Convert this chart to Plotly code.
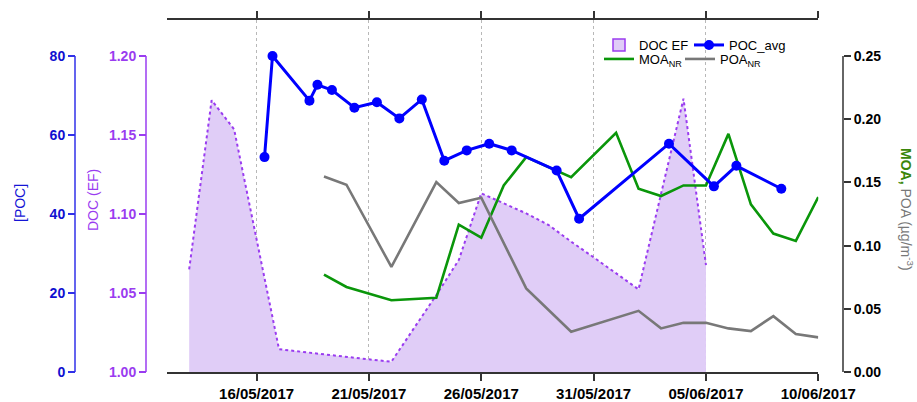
import plotly.graph_objects as go

# ---------------- data ----------------
poc_dates = ['2017-05-16 08:30', '2017-05-16 17:00', '2017-05-18 08:30', '2017-05-18 17:00',
             '2017-05-19 08:30', '2017-05-20 08:30', '2017-05-21 08:30', '2017-05-22 08:30',
             '2017-05-23 08:30', '2017-05-24 08:30', '2017-05-25 08:30', '2017-05-26 08:30',
             '2017-05-27 08:30', '2017-05-29 08:30', '2017-05-30 08:30', '2017-06-03 08:30',
             '2017-06-05 08:30', '2017-06-06 08:30', '2017-06-08 08:30']
poc_avg = [54.4, 80.0, 68.7, 72.7, 71.4, 66.9, 68.3, 64.2, 69.0, 53.5,
           56.1, 57.8, 56.1, 51.0, 38.8, 57.8, 47.0, 52.2, 46.4]

doc_dates = ['2017-05-13', '2017-05-14', '2017-05-15', '2017-05-17', '2017-05-21', '2017-05-22',
             '2017-05-24', '2017-05-25', '2017-05-26', '2017-05-27', '2017-05-28', '2017-05-29',
             '2017-05-30', '2017-05-31', '2017-06-01', '2017-06-02', '2017-06-04', '2017-06-05']
doc_ef = [1.065, 1.172, 1.1536, 1.0144, 1.0080, 1.0065, 1.0487, 1.0709, 1.1131, 1.1068,
          1.1004, 1.0930, 1.0825, 1.0726, 1.0625, 1.0523, 1.173, 1.0677]

moa_dates = ['2017-05-19', '2017-05-20', '2017-05-22', '2017-05-24', '2017-05-25', '2017-05-26',
             '2017-05-27', '2017-05-28', '2017-05-30', '2017-06-01', '2017-06-02', '2017-06-03',
             '2017-06-04', '2017-06-05', '2017-06-06', '2017-06-07', '2017-06-08', '2017-06-09',
             '2017-06-10']
moa_nr = [0.0771, 0.0673, 0.0568, 0.0587, 0.1166, 0.1063, 0.1476, 0.1700, 0.1542, 0.1892,
          0.1450, 0.1392, 0.1476, 0.1476, 0.1884, 0.1326, 0.1095, 0.1037, 0.1384]

poa_dates = ['2017-05-19', '2017-05-20', '2017-05-22', '2017-05-24', '2017-05-25', '2017-05-26',
             '2017-05-28', '2017-05-30', '2017-06-02', '2017-06-03', '2017-06-04', '2017-06-05',
             '2017-06-06', '2017-06-07', '2017-06-08', '2017-06-09', '2017-06-10']
poa_nr = [0.1547, 0.1482, 0.0831, 0.1502, 0.1337, 0.1379, 0.0661, 0.0318, 0.0484, 0.0345,
          0.0389, 0.0389, 0.0345, 0.0324, 0.0442, 0.0300, 0.0274]

x_ticks = ['2017-05-16', '2017-05-21', '2017-05-26', '2017-05-31', '2017-06-05', '2017-06-10']
x_ticktext = ['16/05/2017', '21/05/2017', '26/05/2017', '31/05/2017', '05/06/2017', '10/06/2017']
poc_ticks = [0, 20, 40, 60, 80]
doc_ticks = [1.00, 1.05, 1.10, 1.15, 1.20]
oa_ticks = [0.00, 0.05, 0.10, 0.15, 0.20, 0.25]

# ---------------- layout geometry ----------------
W, H = 917, 402
ML, MR, MT, MB = 0, 0, 20, 30
PW = W - ML - MR
PH = H - MT - MB
x_left, x_right = 166.7, 818.3
FONT = 'Arial, Liberation Sans, sans-serif'

BLUE = '#0000ff'
BLUE_AX = '#3030e8'
PURPLE = '#9a3cf0'
PURPLE_FILL = '#e0cdf7'
GREEN = '#0a960a'
GRAY = '#787878'

def px_x(px):
    return px / PW

def px_y(py):
    return (H - MB - py) / PH

frac = (372 - 20) / (372 - 56)  # extra room above top tick

fig = go.Figure()

# DOC (base axis y)
fig.add_trace(go.Scatter(x=doc_dates, y=doc_ef, mode='lines', fill='tozeroy',
                         fillcolor=PURPLE_FILL,
                         line=dict(color=PURPLE, width=2, dash='dot'),
                         showlegend=False, yaxis='y'))
fig.add_trace(go.Bar(x=[None], y=[None], name='DOC EF', yaxis='y',
                     marker=dict(color=PURPLE_FILL, line=dict(color=PURPLE, width=1.5)),
                     showlegend=True, legend='legend'))
# MOA / POA (y2)
fig.add_trace(go.Scatter(x=moa_dates, y=moa_nr, mode='lines', name='MOA<sub>NR</sub>',
                         line=dict(color=GREEN, width=2.6), yaxis='y2', legend='legend3'))
fig.add_trace(go.Scatter(x=poa_dates, y=poa_nr, mode='lines', name='POA<sub>NR</sub>',
                         line=dict(color=GRAY, width=2.6), yaxis='y2', legend='legend4'))
# POC (y3, top)
fig.add_trace(go.Scatter(x=poc_dates, y=poc_avg, mode='lines+markers', name='POC_avg',
                         line=dict(color=BLUE, width=3), marker=dict(color=BLUE, size=10),
                         yaxis='y3', legend='legend2'))

legend_common = dict(orientation='v', bgcolor='rgba(0,0,0,0)', borderwidth=0,
                     font=dict(family=FONT, size=13, color='#000'),
                     xanchor='left', yanchor='middle', itemwidth=30)

fig.update_layout(
    width=W, height=H, autosize=False,
    margin=dict(l=ML, r=MR, t=MT, b=MB, autoexpand=False),
    paper_bgcolor='white', plot_bgcolor='white',
    font=dict(family=FONT, color='#000'),
    xaxis=dict(domain=[px_x(x_left), px_x(x_right)],
               type='date', range=['2017-05-12', '2017-06-10'],
               tickvals=x_ticks, ticktext=x_ticktext,
               tickfont=dict(family=FONT, size=15, weight='bold', color='#000'),
               ticks='outside', ticklen=7, tickwidth=1.5, tickcolor='#333',
               showline=True, linecolor='#333', linewidth=1.5, mirror='ticks',
               showgrid=True, gridcolor='#b8b8b8', griddash='dot', gridwidth=1,
               zeroline=False, anchor='y', automargin=False),
    yaxis=dict(range=[1.0, 1.0 + 0.2 * frac], anchor='free', position=px_x(146), side='left',
               tickvals=doc_ticks, ticktext=['%.2f' % v for v in doc_ticks],
               tickfont=dict(family=FONT, size=14, weight='bold', color=PURPLE),
               ticks='outside', ticklen=7, tickwidth=1.5, tickcolor=PURPLE,
               showline=False, showgrid=False, zeroline=False, automargin=False),
    yaxis2=dict(range=[0, 0.25 * frac], anchor='free', position=px_x(843), side='right',
                overlaying='y',
                tickvals=oa_ticks, ticktext=['%.2f' % v for v in oa_ticks],
                tickfont=dict(family=FONT, size=14, weight='bold', color='#000'),
                ticks='outside', ticklen=7, tickwidth=1.5, tickcolor='#333',
                showline=False, showgrid=False, zeroline=False, automargin=False),
    yaxis3=dict(range=[0, 80 * frac], anchor='free', position=px_x(75), side='left',
                overlaying='y',
                tickvals=poc_ticks, ticktext=[str(v) for v in poc_ticks],
                tickfont=dict(family=FONT, size=14, weight='bold', color='#1010d0'),
                ticks='outside', ticklen=7, tickwidth=1.5, tickcolor=BLUE_AX,
                showline=False, showgrid=False, zeroline=False, automargin=False),
    legend=dict(legend_common, x=px_x(599), y=px_y(45)),
    legend2=dict(legend_common, x=px_x(689), y=px_y(45)),
    legend3=dict(legend_common, x=px_x(599), y=px_y(59)),
    legend4=dict(legend_common, x=px_x(680), y=px_y(59)),
    barmode='overlay',
)

# axis lines spanning only the tick range
fig.add_shape(type='line', xref='paper', yref='y3', x0=px_x(75), x1=px_x(75), y0=0, y1=80,
              line=dict(color=BLUE_AX, width=1.5), layer='above')
fig.add_shape(type='line', xref='paper', yref='y', x0=px_x(146), x1=px_x(146), y0=1.0, y1=1.2,
              line=dict(color=PURPLE, width=1.5), layer='above')
fig.add_shape(type='line', xref='paper', yref='y2', x0=px_x(843), x1=px_x(843), y0=0, y1=0.25,
              line=dict(color='#333', width=1.5), layer='above')

# axis titles
fig.add_annotation(text='[POC]', xref='paper', yref='paper', x=px_x(20), y=px_y(203),
                   xanchor='center', yanchor='middle',
                   textangle=-90, showarrow=False,
                   font=dict(family=FONT, size=14, color='#1515d5'))
fig.add_annotation(text='DOC (EF)', xref='paper', yref='paper', x=px_x(93), y=px_y(200),
                   xanchor='center', yanchor='middle',
                   textangle=-90, showarrow=False,
                   font=dict(family=FONT, size=14, color=PURPLE))
fig.add_annotation(text="<span style='color:%s'><b>MOA,</b></span> <span style='color:%s'>POA (µg/m<sup>-3</sup>)</span>" % ('#3a860a', GRAY),
                   xref='paper', yref='paper', x=px_x(907), y=px_y(209),
                   xanchor='center', yanchor='middle',
                   textangle=90, showarrow=False,
                   font=dict(family=FONT, size=14))

fig.write_html('out.html', config={'responsive': False, 'displayModeBar': False},
               post_script="document.body.style.margin='0';document.body.style.overflow='hidden';")
